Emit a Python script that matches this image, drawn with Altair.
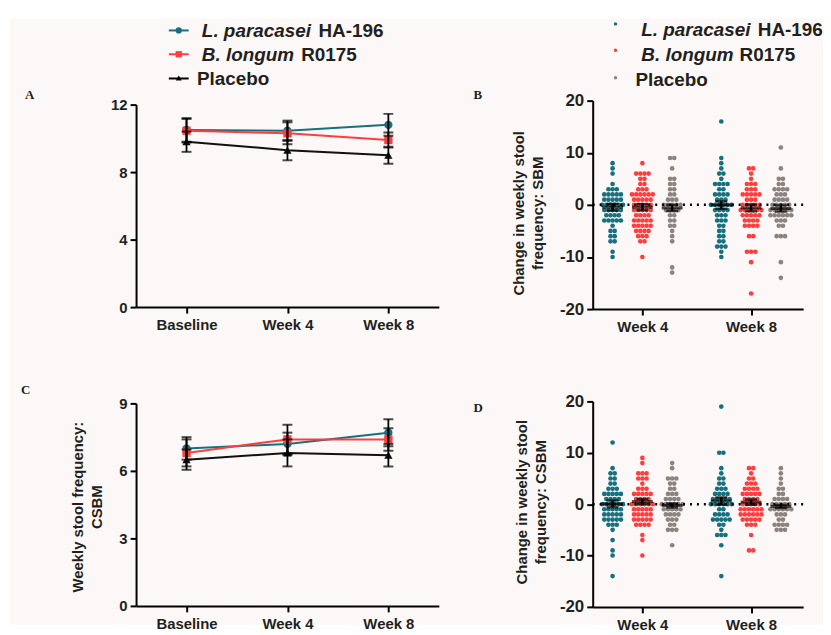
import altair as alt
import pandas as pd

# ---------------- data ----------------
time_points = ["Baseline", "Week 4", "Week 8"]
change_weeks = ["Week 4", "Week 8"]
groups = ["L. paracasei HA-196", "B. longum R0175", "Placebo"]

# Panel A: weekly stool frequency SBM (mean, SEM)
sbm_paracasei = [10.5, 10.45, 10.8]
sbm_paracasei_sem = [0.7, 0.6, 0.65]
sbm_longum = [10.45, 10.3, 9.9]
sbm_longum_sem = [0.7, 0.65, 0.45]
sbm_placebo = [9.8, 9.3, 9.0]
sbm_placebo_sem = [0.6, 0.6, 0.5]

# Panel C: weekly stool frequency CSBM (mean, SEM)
csbm_paracasei = [7.0, 7.2, 7.7]
csbm_paracasei_sem = [0.5, 0.5, 0.6]
csbm_longum = [6.8, 7.4, 7.4]
csbm_longum_sem = [0.6, 0.65, 0.5]
csbm_placebo = [6.5, 6.8, 6.7]
csbm_placebo_sem = [0.45, 0.6, 0.5]

# Panel B: change in SBM, individual values (value: number of subjects)
sbm_chg_w4_paracasei = {8: 1, 7: 1, 6: 1, 4: 1, 3: 3, 2: 5, 1: 5, 0: 6, -1: 5, -2: 4, -3: 5,
                        -4: 1, -5: 2, -6: 2, -7: 2, -9: 1, -10: 1}
sbm_chg_w4_longum = {8: 1, 6: 4, 5: 2, 4: 2, 3: 3, 2: 6, 1: 5, 0: 5, -1: 5, -2: 4, -3: 5,
                     -4: 5, -5: 4, -6: 3, -7: 2, -10: 1}
sbm_chg_w4_placebo = {9: 2, 7: 1, 5: 2, 4: 2, 3: 2, 2: 2, 1: 3, 0: 5, -1: 4, -2: 2, -3: 2,
                      -4: 2, -5: 1, -6: 1, -7: 1, -12: 1, -13: 1}
sbm_chg_w8_paracasei = {16: 1, 9: 1, 8: 1, 7: 1, 6: 2, 5: 1, 4: 4, 3: 2, 2: 4, 1: 3, 0: 6,
                        -1: 4, -2: 3, -3: 3, -4: 2, -5: 2, -6: 2, -7: 2, -8: 3, -9: 1, -10: 1}
sbm_chg_w8_longum = {7: 2, 6: 1, 5: 1, 4: 3, 3: 3, 2: 5, 1: 3, 0: 5, -1: 6, -2: 5, -3: 4,
                     -4: 4, -6: 2, -9: 3, -11: 1, -17: 1}
sbm_chg_w8_placebo = {11: 1, 7: 1, 5: 2, 4: 2, 3: 4, 2: 3, 1: 4, 0: 5, -1: 6, -2: 6, -3: 3,
                      -4: 2, -6: 3, -11: 1, -14: 1}
sbm_chg_mean_paracasei = [-0.45, -0.05]
sbm_chg_sem_paracasei = [0.65, 0.7]
sbm_chg_mean_longum = [-0.45, -0.6]
sbm_chg_sem_longum = [0.6, 0.65]
sbm_chg_mean_placebo = [-0.6, -0.7]
sbm_chg_sem_placebo = [0.6, 0.6]

# Panel D: change in CSBM, individual values
csbm_chg_w4_paracasei = {12: 1, 7: 1, 6: 2, 5: 2, 4: 2, 3: 3, 2: 5, 1: 4, 0: 6, -1: 5, -2: 5,
                         -3: 5, -4: 3, -5: 1, -7: 1, -9: 1, -10: 1, -14: 1}
csbm_chg_w4_longum = {9: 1, 8: 1, 6: 3, 5: 3, 4: 1, 3: 3, 2: 5, 1: 4, 0: 6, -1: 5, -2: 5,
                      -3: 5, -4: 4, -6: 1, -7: 1, -10: 1}
csbm_chg_w4_placebo = {8: 1, 7: 1, 5: 3, 4: 2, 3: 2, 2: 3, 1: 4, 0: 6, -1: 5, -2: 4, -3: 3,
                       -4: 2, -5: 3, -8: 1}
csbm_chg_w8_paracasei = {19: 1, 10: 2, 7: 1, 6: 1, 5: 2, 4: 2, 3: 3, 2: 4, 1: 5, 0: 6, -1: 2,
                         -2: 4, -3: 5, -4: 2, -5: 1, -6: 3, -8: 1, -14: 1}
csbm_chg_w8_longum = {7: 2, 6: 1, 5: 2, 4: 3, 3: 4, 2: 5, 1: 4, 0: 5, -1: 6, -2: 6, -3: 5,
                      -4: 3, -6: 1, -9: 2}
csbm_chg_w8_placebo = {7: 1, 6: 1, 5: 1, 4: 1, 3: 2, 2: 2, 1: 4, 0: 5, -1: 6, -2: 3, -3: 2,
                       -4: 4, -5: 3}
csbm_chg_mean_paracasei = [0.05, 0.6]
csbm_chg_sem_paracasei = [0.65, 0.7]
csbm_chg_mean_longum = [0.5, 0.4]
csbm_chg_sem_longum = [0.5, 0.5]
csbm_chg_mean_placebo = [-0.25, -0.45]
csbm_chg_sem_placebo = [0.4, 0.3]

# ---------------- styling ----------------
FONT = "Liberation Sans, Arial, Helvetica, sans-serif"
SERIF = "Liberation Serif, Times New Roman, serif"
INK = "#231f20"
TEAL = "#16707f"
RED = "#ff3d3d"
GRAY = "#8c827e"
PINK = "#fcf8f7"
LINE_COLORS = [TEAL, RED, "#111111"]
DOT_COLORS = [TEAL, RED, GRAY]

LW, LH = 305, 204          # line panels
RW = 212                   # swarm panels
XDOM = [-0.457, 1.479]
PX_PER_UNIT = RW / (XDOM[1] - XDOM[0])
GROUP_DX = 30 / PX_PER_UNIT
DOT_DX = 4.2 / PX_PER_UNIT

one = pd.DataFrame({"k": [0]})


def txt(s, x, y, size=19, style="normal", font=FONT):
    return alt.Chart(one).mark_text(
        text=s, align="left", baseline="alphabetic", font=font, fontSize=size,
        fontStyle=style, fontWeight="bold", color=INK
    ).encode(x=alt.value(x), y=alt.value(y))


def line_panel(means, sems, ymax, yticks, ytitle=None, title_x=0, title_y=0):
    rows = []
    for g, m_list, s_list in zip(groups, means, sems):
        for t, m, s in zip(time_points, m_list, s_list):
            rows.append({"time": t, "group": g, "mean": m, "lo": m - s, "hi": m + s})
    df = pd.DataFrame(rows)
    if ytitle is not None:
        yaxis = alt.Axis(values=yticks, title=ytitle, titleX=title_x, titleY=title_y,
                         titleAngle=270, titleAlign="center", titleBaseline="alphabetic",
                         titleLineHeight=19, zindex=2)
    else:
        yaxis = alt.Axis(values=yticks, title=None, zindex=2)
    ys = alt.Scale(domain=[0, ymax], nice=False)
    x = alt.X("time:N", sort=time_points, scale=alt.Scale(type="point", padding=0.5),
              axis=alt.Axis(title=None, labelAngle=0, zindex=2))
    color = alt.Color("group:N", scale=alt.Scale(domain=groups, range=LINE_COLORS), legend=None)
    base = alt.Chart(df)
    lines = base.mark_line(strokeWidth=2).encode(
        x=x, y=alt.Y("mean:Q", scale=ys, axis=yaxis), color=color)
    pts = base.mark_point(filled=True, opacity=1, size=70).encode(
        x=x, y=alt.Y("mean:Q", scale=ys, axis=yaxis), color=color,
        shape=alt.Shape("group:N", scale=alt.Scale(domain=groups,
                        range=["circle", "square", "triangle-up"]), legend=None))
    err = base.mark_rule(color="black", strokeWidth=1.8).encode(
        x=x, y=alt.Y("lo:Q", scale=ys, axis=yaxis), y2="hi:Q")
    cap_lo = base.mark_tick(orient="horizontal", size=10, thickness=2, color="black").encode(
        x=x, y=alt.Y("lo:Q", scale=ys, axis=yaxis))
    cap_hi = base.mark_tick(orient="horizontal", size=10, thickness=2, color="black").encode(
        x=x, y=alt.Y("hi:Q", scale=ys, axis=yaxis))
    return [lines, pts, err, cap_lo, cap_hi]


def swarm_panel(count_sets, mean_sets, sem_sets, ytitle, title_x, title_y, yrange):
    rows = []
    for gi, (g, per_week) in enumerate(zip(groups, count_sets)):
        for wi, cnt in enumerate(per_week):
            for v, n in cnt.items():
                for k in range(n):
                    rows.append({"group": g, "value": v,
                                 "xpos": wi + (gi - 1) * GROUP_DX + (k - (n - 1) / 2) * DOT_DX})
    dots_df = pd.DataFrame(rows)
    mrows = []
    for gi, (g, ms, ss) in enumerate(zip(groups, mean_sets, sem_sets)):
        for wi in range(len(change_weeks)):
            mrows.append({"group": g, "xpos": wi + (gi - 1) * GROUP_DX,
                          "mean": ms[wi], "lo": ms[wi] - ss[wi], "hi": ms[wi] + ss[wi]})
    mean_df = pd.DataFrame(mrows)

    xs = alt.Scale(domain=XDOM, nice=False, zero=False)
    xaxis = alt.Axis(values=[0, 1], title=None, labelFlush=False,
                     labelExpr="datum.value == 0 ? 'Week 4' : 'Week 8'")
    ys = alt.Scale(domain=[-20, 20], nice=False, range=yrange)
    yaxis = alt.Axis(values=[-20, -10, 0, 10, 20], title=ytitle, titleX=title_x, titleY=title_y,
                     titleAngle=270, titleAlign="center", titleBaseline="alphabetic",
                     titleLineHeight=19, labelFontSize=17,
                     labelExpr="datum.value < 0 ? '-' + abs(datum.value) : '' + datum.value")
    x = alt.X("xpos:Q", scale=xs, axis=xaxis)
    dots = alt.Chart(dots_df).mark_circle(size=22, opacity=1).encode(
        x=x, y=alt.Y("value:Q", scale=ys, axis=yaxis),
        color=alt.Color("group:N", scale=alt.Scale(domain=groups, range=DOT_COLORS), legend=None))
    zero = alt.Chart(one).mark_rule(color="black", strokeWidth=2.5, strokeDash=[2, 5]).encode(
        y=alt.datum(0))
    mbase = alt.Chart(mean_df)
    mline = mbase.mark_tick(orient="horizontal", size=21, thickness=3, color="black").encode(
        x=x, y=alt.Y("mean:Q", scale=ys, axis=yaxis))
    err = mbase.mark_rule(color="black", strokeWidth=2.4).encode(
        x=x, y=alt.Y("lo:Q", scale=ys, axis=yaxis), y2="hi:Q")
    cap_lo = mbase.mark_tick(orient="horizontal", size=12, thickness=2.4, color="black").encode(
        x=x, y=alt.Y("lo:Q", scale=ys, axis=yaxis))
    cap_hi = mbase.mark_tick(orient="horizontal", size=12, thickness=2.4, color="black").encode(
        x=x, y=alt.Y("hi:Q", scale=ys, axis=yaxis))
    return [dots, zero, err, mline, cap_lo, cap_hi]


# ---------------- panels ----------------
background = alt.Chart(one).mark_rect(color=PINK).encode(
    x=alt.value(-127), x2=alt.value(692), y=alt.value(-87), y2=alt.value(524))

legend_left = [
    alt.Chart(one).mark_rule(color=TEAL, strokeWidth=2).encode(
        x=alt.value(33), x2=alt.value(53), y=alt.value(-74.7)),
    alt.Chart(one).mark_point(filled=True, opacity=1, shape="circle", size=40, color=TEAL).encode(
        x=alt.value(43), y=alt.value(-74.7)),
    alt.Chart(one).mark_rule(color=RED, strokeWidth=2).encode(
        x=alt.value(33), x2=alt.value(53), y=alt.value(-50.7)),
    alt.Chart(one).mark_point(filled=True, opacity=1, shape="square", size=40, color=RED).encode(
        x=alt.value(43), y=alt.value(-50.7)),
    alt.Chart(one).mark_rule(color="black", strokeWidth=2).encode(
        x=alt.value(33), x2=alt.value(53), y=alt.value(-26.3)),
    alt.Chart(one).mark_point(filled=True, opacity=1, shape="triangle-up", size=35,
                              color="black").encode(x=alt.value(43), y=alt.value(-26.8)),
    txt("L. paracasei", 66.3, -68, style="italic"),
    txt("HA-196", 183.7, -68),
    txt("B. longum", 66.3, -43.7, style="italic"),
    txt("R0175", 166.3, -43.7),
    txt("Placebo", 61.3, -19.7),
]

legend_right = [
    alt.Chart(one).mark_circle(size=12, opacity=1, color=TEAL).encode(
        x=alt.value(23), y=alt.value(-81.3)),
    alt.Chart(one).mark_circle(size=12, opacity=1, color=RED).encode(
        x=alt.value(23), y=alt.value(-54.7)),
    alt.Chart(one).mark_circle(size=12, opacity=1, color=GRAY).encode(
        x=alt.value(23), y=alt.value(-27)),
    txt("L. paracasei", 49, -68.7, style="italic"),
    txt("HA-196", 166.3, -68.7),
    txt("B. longum", 49, -43.7, style="italic"),
    txt("R0175", 148, -43.7),
    txt("Placebo", 43, -19),
]

panel_a = alt.layer(
    background,
    *line_panel([sbm_paracasei, sbm_longum, sbm_placebo],
                [sbm_paracasei_sem, sbm_longum_sem, sbm_placebo_sem], 12, [0, 4, 8, 12]),
    *legend_left,
    txt("A", -112, -6, size=13, font=SERIF),
).properties(width=LW, height=LH)

panel_c = alt.layer(
    *line_panel([csbm_paracasei, csbm_longum, csbm_placebo],
                [csbm_paracasei_sem, csbm_longum_sem, csbm_placebo_sem], 9, [0, 3, 6, 9],
                ytitle=["Weekly stool frequency:", "CSBM"], title_x=-54, title_y=104),
    txt("C", -116, -9, size=13, font=SERIF),
).properties(width=LW, height=LH)

panel_b = alt.layer(
    *swarm_panel(
        [[sbm_chg_w4_paracasei, sbm_chg_w8_paracasei],
         [sbm_chg_w4_longum, sbm_chg_w8_longum],
         [sbm_chg_w4_placebo, sbm_chg_w8_placebo]],
        [sbm_chg_mean_paracasei, sbm_chg_mean_longum, sbm_chg_mean_placebo],
        [sbm_chg_sem_paracasei, sbm_chg_sem_longum, sbm_chg_sem_placebo],
        ["Change in weekly stool", "frequency: SBM"], -70, 109, [206, -4]),
    *legend_right,
    txt("B", -120, -6, size=13, font=SERIF),
).properties(width=RW, height=206)

panel_d = alt.layer(
    *swarm_panel(
        [[csbm_chg_w4_paracasei, csbm_chg_w8_paracasei],
         [csbm_chg_w4_longum, csbm_chg_w8_longum],
         [csbm_chg_w4_placebo, csbm_chg_w8_placebo]],
        [csbm_chg_mean_paracasei, csbm_chg_mean_longum, csbm_chg_mean_placebo],
        [csbm_chg_sem_paracasei, csbm_chg_sem_longum, csbm_chg_sem_placebo],
        ["Change in weekly stool", "frequency: CSBM"], -67, 99, [205, -2]),
    txt("D", -120, 9, size=13, font=SERIF),
).properties(width=RW, height=205)

chart = alt.concat(
    panel_a, panel_b, panel_c, panel_d,
    columns=2, spacing={"row": 95, "column": 155}, bounds="flush", align="each",
).resolve_scale(
    color="independent", shape="independent",
).properties(
    padding={"left": 2, "top": 8, "right": 0, "bottom": 0},
).configure(
    font=FONT,
).configure_view(
    stroke=None,
).configure_axis(
    domainColor="black", domainWidth=2, tickColor="black", tickWidth=2, tickSize=6,
    labelFont=FONT, labelFontSize=15, labelFontWeight="bold", labelColor=INK,
    titleFont=FONT, titleFontSize=15, titleFontWeight="bold", titleColor=INK,
    grid=False,
).configure_axisY(labelPadding=3).configure_axisX(labelPadding=5)

chart.save("out.html", embed_options={"renderer": "svg", "actions": False})
